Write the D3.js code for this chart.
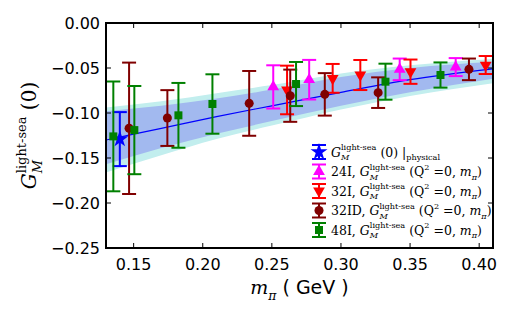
<!DOCTYPE html>
<html>
<head>
<meta charset="utf-8">
<script src="https://cdn.jsdelivr.net/npm/d3@7"></script>
<style>
  body { margin: 0; background: #fff; }
  text { white-space: pre; }
</style>
</head>
<body>
<script>
var width = 512;
var height = 320;
var margin = {left: 106, right: 19, top: 23, bottom: 72};

// fit curve and error bands at a few m_pi values
var fitX = [0.13, 0.17, 0.21, 0.25, 0.30, 0.35, 0.41];
var fitY = [-0.130, -0.117, -0.104, -0.092, -0.077, -0.063, -0.051];
var innerHi = [-0.098, -0.092, -0.084, -0.074, -0.060, -0.050, -0.043];
var innerLo = [-0.157, -0.139, -0.123, -0.109, -0.092, -0.077, -0.062];
var outerHi = [-0.094, -0.087, -0.078, -0.069, -0.056, -0.047, -0.040];
var outerLo = [-0.166, -0.147, -0.129, -0.114, -0.096, -0.081, -0.067];

// physical point
var physM = [0.140];
var physG = [-0.129];
var physE = [0.030];

// 24I
var m24I = [0.251, 0.277, 0.3425, 0.383];
var g24I = [-0.071, -0.063, -0.0515, -0.049];
var e24I = [0.024, 0.022, 0.012, 0.010];

// 32I
var m32I = [0.261, 0.294, 0.314, 0.3503, 0.4047];
var g32I = [-0.0744, -0.0615, -0.0578, -0.0541, -0.0467];
var e32I = [0.027, 0.016, 0.0167, 0.0135, 0.010];

// 32ID
var m32ID = [0.1467, 0.1744, 0.2336, 0.2633, 0.2883, 0.3269, 0.3926];
var g32ID = [-0.117, -0.1056, -0.0893, -0.0808, -0.0793, -0.0774, -0.0515];
var e32ID = [0.073, 0.031, 0.036, 0.029, 0.0236, 0.017, 0.012];

// 48I
var m48I = [0.1353, 0.1505, 0.1824, 0.207, 0.2675, 0.3322, 0.372];
var g48I = [-0.126, -0.119, -0.1026, -0.090, -0.0678, -0.0652, -0.0578];
var e48I = [0.061, 0.049, 0.036, 0.033, 0.0245, 0.020, 0.014];

var xTicks = [0.15, 0.20, 0.25, 0.30, 0.35, 0.40];
var yTicks = [0.00, -0.05, -0.10, -0.15, -0.20, -0.25];

var series = [
  {name: "phys", m: physM, g: physG, e: physE, color: "#0000ff", sym: d3.symbolStar, size: 90, rot: 0},
  {name: "24I", m: m24I, g: g24I, e: e24I, color: "#ff00ff", sym: d3.symbolTriangle, size: 60, rot: 0},
  {name: "32I", m: m32I, g: g32I, e: e32I, color: "#ff0000", sym: d3.symbolTriangle, size: 60, rot: 180},
  {name: "32ID", m: m32ID, g: g32ID, e: e32ID, color: "#800000", sym: d3.symbolCircle, size: 64, rot: 0},
  {name: "48I", m: m48I, g: g48I, e: e48I, color: "#008000", sym: d3.symbolSquare, size: 64, rot: 0}
];

var svg = d3.select("body").append("svg")
    .attr("width", width)
    .attr("height", height);

var x = d3.scaleLinear().domain([0.13, 0.41]).range([margin.left, width - margin.right]);
var y = d3.scaleLinear().domain([-0.25, 0]).range([height - margin.bottom, margin.top]);

svg.append("clipPath").attr("id", "clip")
  .append("rect")
    .attr("x", x.range()[0]).attr("y", y.range()[1])
    .attr("width", x.range()[1] - x.range()[0])
    .attr("height", y.range()[0] - y.range()[1]);

var plot = svg.append("g").attr("clip-path", "url(#clip)");

var band = function (hi, lo) {
  return d3.area()
    .x(function (d, i) { return x(fitX[i]); })
    .y0(function (d, i) { return y(lo[i]); })
    .y1(function (d, i) { return y(hi[i]); })
    .curve(d3.curveMonotoneX)(fitX);
};

plot.append("path").attr("d", band(outerHi, outerLo)).style("fill", "#c2eeee");
plot.append("path").attr("d", band(innerHi, innerLo)).style("fill", "#a2b9ef");
plot.append("path")
  .attr("d", d3.line()
    .x(function (d, i) { return x(fitX[i]); })
    .y(function (d, i) { return y(fitY[i]); })
    .curve(d3.curveMonotoneX)(fitX))
  .style("fill", "none").style("stroke", "#0000ff").style("stroke-width", 1.2);

var cap = 7;

function drawPoint (g, cx, cy, top, bot, s) {
  g.append("line").attr("x1", cx).attr("x2", cx).attr("y1", top).attr("y2", bot)
    .style("stroke", s.color).style("stroke-width", 2);
  [top, bot].forEach(function (yy) {
    g.append("line").attr("x1", cx - cap).attr("x2", cx + cap).attr("y1", yy).attr("y2", yy)
      .style("stroke", s.color).style("stroke-width", 2);
  });
  g.append("path")
    .attr("d", d3.symbol().type(s.sym).size(s.size)())
    .attr("transform", "translate(" + cx + "," + cy + ") rotate(" + s.rot + ")")
    .style("fill", s.color);
}

series.forEach(function (s) {
  var g = plot.append("g").attr("class", "series-" + s.name);
  for (var i = 0; i < s.m.length; i ++) {
    drawPoint(g, x(s.m[i]), y(s.g[i]), y(s.g[i] + s.e[i]), y(s.g[i] - s.e[i]), s);
  }
});

// frame and ticks (inward, all four sides)
var axes = svg.append("g");
var tl = 5;
xTicks.forEach(function (t) {
  axes.append("line").attr("x1", x(t)).attr("x2", x(t)).attr("y1", y.range()[0]).attr("y2", y.range()[0] - tl)
    .style("stroke", "#000").style("stroke-width", 1);
  axes.append("line").attr("x1", x(t)).attr("x2", x(t)).attr("y1", y.range()[1]).attr("y2", y.range()[1] + tl)
    .style("stroke", "#000").style("stroke-width", 1);
  axes.append("text").attr("x", x(t)).attr("y", y.range()[0] + 22)
    .attr("text-anchor", "middle")
    .style("font-family", "DejaVu Sans").style("font-size", "16px")
    .text(d3.format(".2f")(t));
});
yTicks.forEach(function (t) {
  axes.append("line").attr("x1", x.range()[0]).attr("x2", x.range()[0] + tl).attr("y1", y(t)).attr("y2", y(t))
    .style("stroke", "#000").style("stroke-width", 1);
  axes.append("line").attr("x1", x.range()[1]).attr("x2", x.range()[1] - tl).attr("y1", y(t)).attr("y2", y(t))
    .style("stroke", "#000").style("stroke-width", 1);
  axes.append("text").attr("x", x.range()[0] - 6).attr("y", y(t) + 6)
    .attr("text-anchor", "end")
    .style("font-family", "DejaVu Sans").style("font-size", "16px")
    .text(d3.format(".2f")(t).replace("-", "\u2212"));
});
axes.append("rect")
  .attr("x", x.range()[0]).attr("y", y.range()[1])
  .attr("width", x.range()[1] - x.range()[0])
  .attr("height", y.range()[0] - y.range()[1])
  .style("fill", "none").style("stroke", "#000").style("stroke-width", 2);

// text with sub/superscripts built from tspans
function rich (sel, parts, size) {
  var t = sel.append("text")
    .style("font-family", "DejaVu Serif")
    .style("font-size", size + "px");
  var cur = 0, prev = null;
  parts.forEach(function (p) {
    var ts = t.append("tspan").text(p.t);
    var shift = p.sub ? size * 0.3 : p.sup ? -size * 0.5 : 0;
    ts.attr("dy", shift - cur);
    cur = shift;
    if (p.it) ts.style("font-style", "italic");
    if (p.sub || p.sup) ts.style("font-size", (size * 0.65) + "px");
    if (p.sans) ts.style("font-family", "DejaVu Sans");
    if (p.stack && prev) ts.attr("dx", -prev.node().getComputedTextLength());
    prev = ts;
  });
  return t;
}

// axis labels
rich(svg.append("g").attr("transform", "translate(" + ((x.range()[0] + x.range()[1]) / 2) + "," + 294 + ")"),
  [{t: "m", it: true}, {t: "\u03c0", sub: true, it: true}, {t: " ( GeV )", sans: true}], 19)
  .attr("text-anchor", "middle");

rich(svg.append("g").attr("transform", "translate(36," + ((y.range()[0] + y.range()[1]) / 2) + ") rotate(-90)"),
  [{t: "G", it: true}, {t: "M", it: true, sub: true}, {t: "light-sea", sup: true, stack: true}, {t: " (0)"}], 20)
  .attr("text-anchor", "middle");

// legend
var gm = [{t: "G", it: true}, {t: "M", it: true, sub: true}, {t: "light-sea", sup: true, stack: true}];
var qm = [{t: " (Q"}, {t: "2", sup: true}, {t: " =0, "}, {t: "m", it: true}, {t: "\u03c0", it: true, sub: true}, {t: ")"}];
var legendLabels = [
  gm.concat([{t: " (0) |"}, {t: "physical", sub: true}]),
  [{t: "24I, "}].concat(gm, qm),
  [{t: "32I, "}].concat(gm, qm),
  [{t: "32ID, "}].concat(gm, qm),
  [{t: "48I, "}].concat(gm, qm)
];

var legend = svg.append("g");
series.forEach(function (s, i) {
  var ly = 152 + 19.5 * i;
  var lx = 319;
  var g = legend.append("g");
  drawPoint(g, lx, ly, ly - 7, ly + 7, s);
  rich(g.append("g").attr("transform", "translate(331," + (ly + 4.5) + ")"), legendLabels[i], 12.5);
});
</script>
</body>
</html>
